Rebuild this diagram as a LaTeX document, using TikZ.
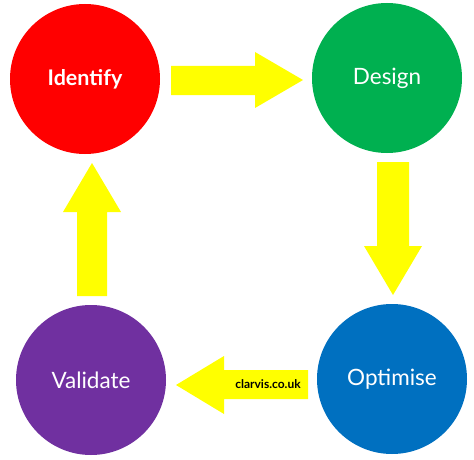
\documentclass[tikz,border=0pt]{standalone}
\usepackage{fontspec}
\setmainfont{Lato}
\definecolor{cred}{HTML}{FF0000}
\definecolor{cgreen}{HTML}{00B050}
\definecolor{cblue}{HTML}{0070C0}
\definecolor{cpurple}{HTML}{7030A0}
\definecolor{cyellow}{HTML}{FFFF00}
\tikzset{
  stage/.style={circle, minimum size=150pt, inner sep=0pt, text=white, font=\fontsize{22.5}{24}\selectfont},
  arrowshape/.style={fill=cyellow, draw=none},
}
\begin{document}
\begin{tikzpicture}[x=1pt,y=-1pt]
\useasboundingbox (0,0) rectangle (474,460);
\fill[white] (0,0) rectangle (474,460);
\node[stage, fill=cred, font=\fontsize{21.5}{24}\selectfont\bfseries] (identify) at (85,79) {Identify};
\node[stage, fill=cgreen] (design) at (387,78) {Design};
\node[stage, fill=cblue] (optimise) at (392,379) {Optimise};
\node[stage, fill=cpurple] (validate) at (91,380) {Validate};
% right arrow Identify -> Design
\fill[arrowshape] (171,66) -- (255,66) -- (255,52) -- (303,80) -- (255,108) -- (255,95) -- (171,95) -- cycle;
% down arrow Design -> Optimise
\fill[arrowshape] (377,162) -- (409,162) -- (409,246) -- (422,246) -- (393,295) -- (364,246) -- (377,246) -- cycle;
% left arrow Optimise -> Validate
\fill[arrowshape] (308,370) -- (224,370) -- (224,356) -- (176,385) -- (224,414) -- (224,399) -- (308,399) -- cycle;
\node[font=\fontsize{12}{14}\selectfont\bfseries, text=black, inner sep=0pt] (label) at (268,384) {clarvis.co.uk};
% up arrow Validate -> Identify
\fill[arrowshape] (77,296) -- (107,296) -- (107,212) -- (121,212) -- (92,163) -- (63,212) -- (77,212) -- cycle;
\end{tikzpicture}
\end{document}
